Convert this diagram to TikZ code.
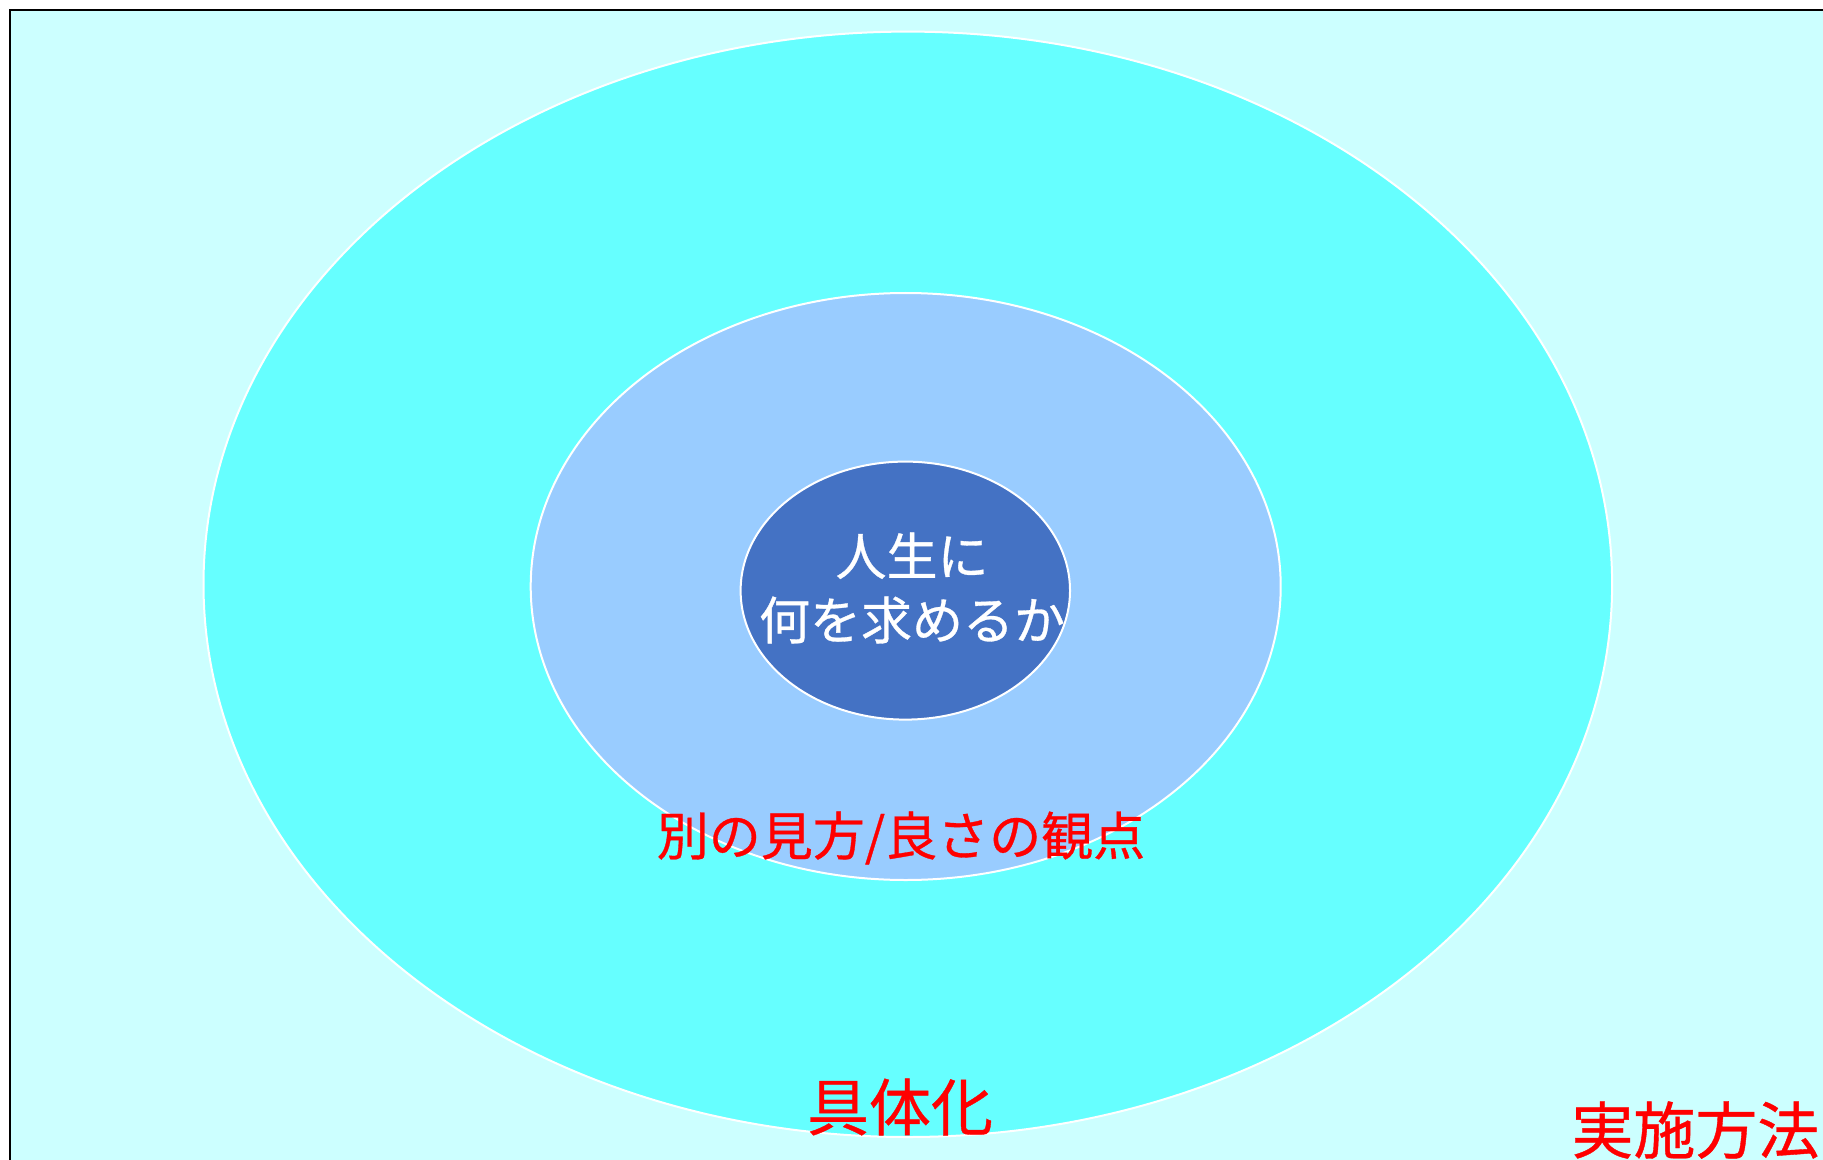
\documentclass[tikz,border=0pt]{standalone}
\usepackage{fontspec}
\newfontfamily\jp[AutoFakeBold=0.6]{Noto Sans CJK JP}
\usetikzlibrary{shapes.geometric}
\definecolor{bgcyan}{HTML}{CCFFFF}
\definecolor{outercyan}{HTML}{66FFFF}
\definecolor{midblue}{HTML}{99CCFF}
\definecolor{innerblue}{HTML}{4472C4}
\begin{document}
\begin{tikzpicture}[x=0.5pt,y=-0.5pt,
  ring/.style={ellipse, draw=white, line width=1pt, inner sep=0pt},
  redlabel/.style={text=red, inner sep=0pt, font=\jp\bfseries\fontsize{26pt}{30pt}\selectfont},
  biglabel/.style={text=red, inner sep=0pt, font=\jp\bfseries\fontsize{31pt}{36pt}\selectfont}]
\useasboundingbox (0,0) rectangle (1823,1160);
\clip (0,0) rectangle (1823,1160);
\fill[white] (0,0) rectangle (1823,1160);
\draw[fill=bgcyan, line width=1pt] (10,10) rectangle (1850,1190);
\node[ring, fill=outercyan, minimum width=704.3pt, minimum height=552.7pt] (outer) at (907.8,584.3) {};
\node[ring, fill=midblue, minimum width=375pt, minimum height=293.5pt] (middle) at (905.7,586.5) {};
\node[ring, fill=innerblue, minimum width=164.7pt, minimum height=129pt] (inner) at (905.3,590.6) {};
\node[text=white, inner sep=0pt, align=center, font=\jp\bfseries\fontsize{25.5pt}{32pt}\selectfont] (core) at (912,588) {人生に\\何を求めるか};
\node[redlabel] (view) at (901,838) {別の見方/良さの観点};
\node[biglabel] (concrete) at (900,1107) {具体化};
\node[biglabel, anchor=west] (method) at (1571,1130) {実施方法};
\end{tikzpicture}
\end{document}
